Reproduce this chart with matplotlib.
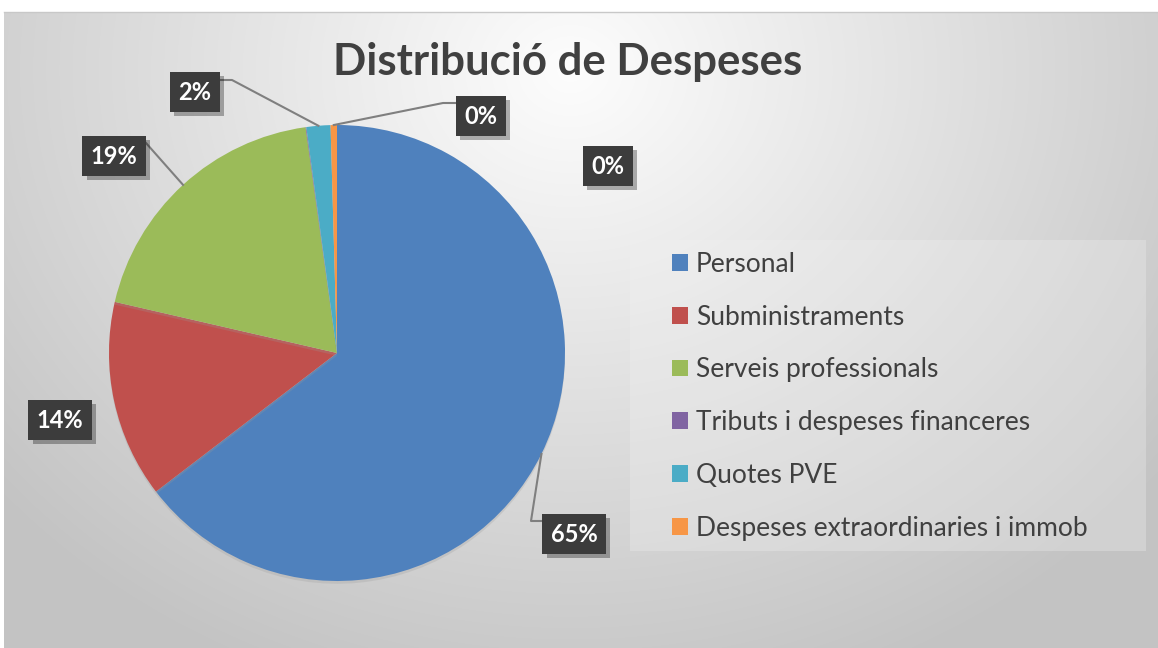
import numpy as np
import matplotlib.pyplot as plt
from matplotlib.patches import Rectangle, Patch
import matplotlib.patheffects as pe

# -----------------------------------------------
# dades
# -----------------------------------------------
categories = ["Personal", "Subministraments", "Serveis professionals",
              "Tributs i despeses financeres", "Quotes PVE",
              "Despeses extraordinaries i immob"]
values = [64.6, 14.0, 19.2, 0.05, 1.7, 0.45]
colors = ["#4F81BD", "#C0504D", "#9BBB59", "#8064A2", "#4BACC6", "#F79646"]

# posicions de les etiquetes (pixels: centre del requadre) i colzes de les línies
label_pos = [(574, 534), (60, 420), (114, 156), (608, 166), (195, 92), (481, 116)]
label_elbow = [[(531, 521), (543, 521)], None, [(146, 143)], None,
               [(232, 80), (221, 80)], [(443, 103), (456, 103)]]

plt.rcParams["font.family"] = ["Lato", "DejaVu Sans"]

W, H = 1158, 648
fig = plt.figure(figsize=(W / 100, H / 100), dpi=100)

# -----------------------------------------------
# fons amb degradat
# -----------------------------------------------
bg = fig.add_axes([0, 0, 1, 1], zorder=0)
yy, xx = np.mgrid[0:H, 0:W]
d = np.sqrt(((xx - 570) / 760.0) ** 2 + ((yy - 70) / 660.0) ** 2)
img = 253 - 58 * np.clip(d, 0, 1)
img[:12, :] = 255
img[:, :4] = 255
img = np.dstack([img, img, img]).astype(np.uint8)
bg.imshow(img, extent=(0, W, H, 0), interpolation="bilinear")
bg.plot([4, W], [12, 12], color="#c8c8c8", lw=1)
bg.set_xlim(0, W)
bg.set_ylim(H, 0)
bg.axis("off")

# capsa de la llegenda
bg.add_patch(Rectangle((630, 240), 516, 311, facecolor="#f2f2f2", alpha=0.3,
                       edgecolor="none"))

# títol
bg.text(568, 62, "Distribució de Despeses", ha="center", va="center",
        fontsize=31.5, fontweight="bold", color="#404040")

# -----------------------------------------------
# pastís
# -----------------------------------------------
cx, cy, r = 337, 353, 228
ax = fig.add_axes([(cx - r) / W, (H - cy - r) / H, 2 * r / W, 2 * r / H], zorder=2)
wedges, _ = ax.pie(values, colors=colors, startangle=90, counterclock=False,
                   radius=1, wedgeprops=dict(linewidth=0))
# ombra suau
for w in wedges:
    w.set_path_effects([pe.SimplePatchShadow(offset=(0, -2), shadow_rgbFace="#999999", alpha=0.25),
                        pe.Normal()])
ax.set_xlim(-1, 1)
ax.set_ylim(-1, 1)
ax.set_aspect("equal")
ax.axis("off")

total = sum(values)


def to_data(p):
    return ((p[0] - cx) / r, (cy - p[1]) / r)


for i, w in enumerate(wedges):
    pct = values[i] / total * 100
    mid = np.deg2rad((w.theta1 + w.theta2) / 2)
    lx, ly = to_data(label_pos[i])
    if label_elbow[i] is not None:
        pts = [(np.cos(mid), np.sin(mid))] + [to_data(p) for p in label_elbow[i]]
        ax.plot([p[0] for p in pts], [p[1] for p in pts], color="#7f7f7f", lw=1.5,
                clip_on=False, zorder=3)
    t = ax.text(lx, ly, f"{pct:.0f}%", ha="center", va="center", fontsize=17,
                fontweight="bold", color="white", zorder=4, clip_on=False,
                bbox=dict(boxstyle="square,pad=0.35", facecolor="#3c3c3c",
                          edgecolor="none"))
    t.get_bbox_patch().set_path_effects([
        pe.SimplePatchShadow(offset=(3, -3), shadow_rgbFace="#000000", alpha=0.3),
        pe.Normal()])

# -----------------------------------------------
# llegenda
# -----------------------------------------------
handles = [Patch(facecolor=c, edgecolor="none") for c in colors]
fig.legend(handles, categories, loc="upper left", bbox_to_anchor=(672 / W, 1 - 252 / H),
           frameon=False, fontsize=19, labelcolor="#404040", handlelength=0.6,
           handleheight=0.6, handletextpad=0.3, labelspacing=1.05, borderpad=0,
           borderaxespad=0)

fig.savefig("out.png", dpi=100)
